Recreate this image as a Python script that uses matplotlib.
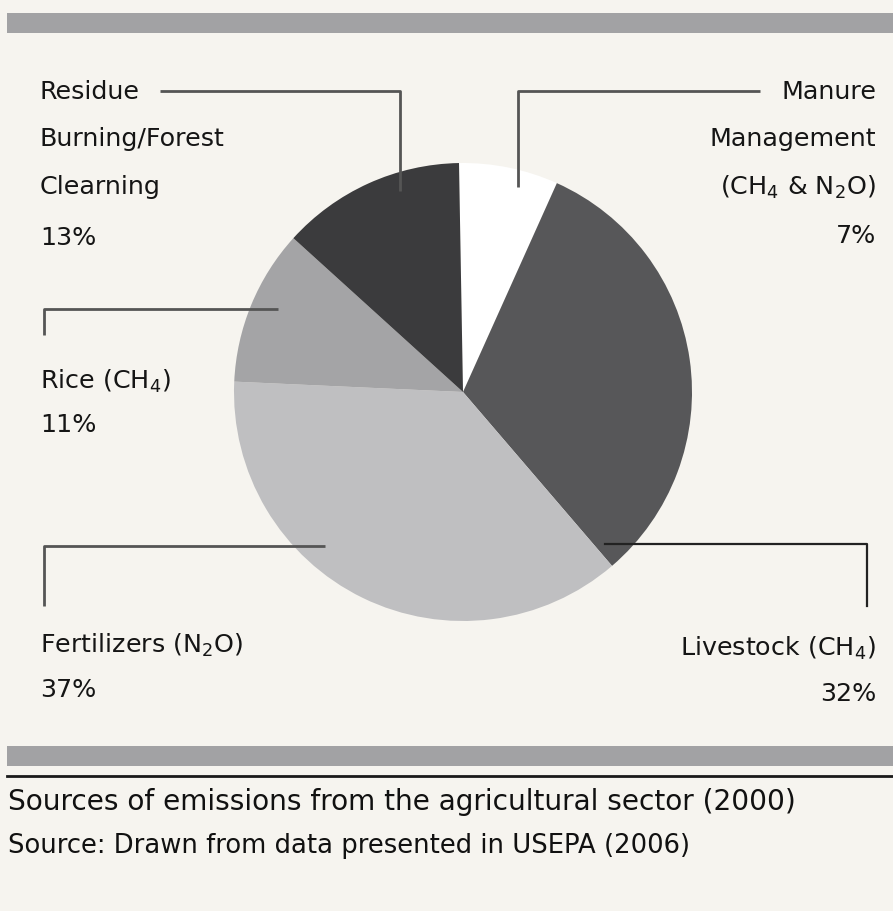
import matplotlib.pyplot as plt
from matplotlib.patches import Rectangle

# Agricultural emission sources, clockwise from the top
sources = ["Manure Management", "Livestock", "Fertilizers", "Rice", "Residue Burning"]
shares = [7, 32, 37, 11, 13]
shades = ["#ffffff", "#575759", "#bfbfc1", "#a4a4a6", "#3b3b3d"]

W, H = 893, 912
BG = "#f6f4ef"
FONT = ["DejaVu Sans"]
plt.rcParams["mathtext.fontset"] = "dejavusans"
plt.rcParams["mathtext.default"] = "regular"

fig = plt.figure(figsize=(W / 100, H / 100), dpi=100, facecolor=BG)
ax = fig.add_axes([0, 0, 1, 1])


def y(py):
    # pixel rows counted from the top
    return H - py


# band at the top and bottom of the panel
ax.add_patch(Rectangle((7, y(34)), W - 7, 20, color="#a2a2a4", lw=0))
ax.add_patch(Rectangle((7, y(767)), W - 7, 20, color="#a2a2a4", lw=0))
ax.plot([7, W], [y(777), y(777)], color="#1a1a1a", lw=2)

ax.pie(shares, colors=shades, startangle=91, counterclock=False,
       center=(463, y(393)), radius=229, frame=True,
       wedgeprops=dict(linewidth=0))
ax.set_xlim(0, W)
ax.set_ylim(0, H)
ax.set_aspect("equal")
ax.axis("off")

line_kw = dict(color="#555555", lw=2, solid_capstyle="butt")
# leader lines
ax.plot([160, 400, 400], [y(92), y(92), y(192)], **line_kw)
ax.plot([760, 518, 518], [y(92), y(92), y(188)], **line_kw)
ax.plot([278, 44, 44], [y(310), y(310), y(336)], **line_kw)
ax.plot([325, 44, 44], [y(547), y(547), y(607)], **line_kw)
ax.plot([605, 867, 867], [y(545), y(545), y(607)], color="#222222", lw=1.6)

txt = dict(fontsize=18.3, family=FONT, color="#151515", va="center")


def block(x, rows, lines, ha):
    for r, s in zip(rows, lines):
        ax.text(x, y(r), s, ha=ha, **txt)


block(40, [92, 139, 187, 238],
      ["Residue", "Burning/Forest", "Clearning", f"{shares[4]}%"], "left")
block(876, [92, 139, 187, 236],
      ["Manure", "Management", r"(CH$_4$ & N$_2$O)", f"{shares[0]}%"], "right")
block(40, [381, 425], [r"Rice (CH$_4$)", f"{shares[3]}%"], "left")
block(40, [645, 690], [r"Fertilizers (N$_2$O)", f"{shares[2]}%"], "left")
block(876, [648, 694], [r"Livestock (CH$_4$)", f"{shares[1]}%"], "right")

ax.text(8, y(802), "Sources of emissions from the agricultural sector (2000)",
        fontsize=20.2, family=FONT, color="#111111", va="center")
ax.text(8, y(846), "Source: Drawn from data presented in USEPA (2006)",
        fontsize=18.6, family=FONT, color="#111111", va="center")

fig.savefig("out.png", dpi=100, facecolor=BG)
